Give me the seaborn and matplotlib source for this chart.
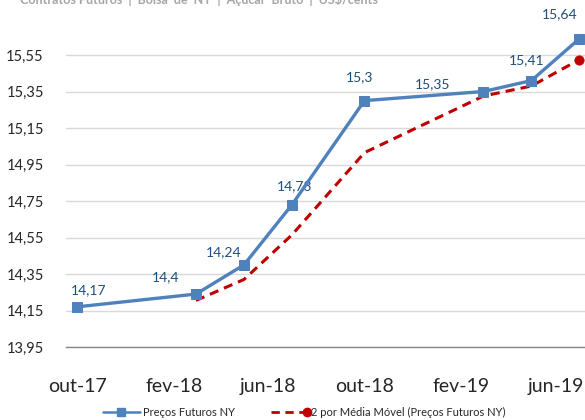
import numpy as np
import pandas as pd
import matplotlib
matplotlib.use('Agg')
import matplotlib.pyplot as plt
import seaborn as sns
from matplotlib.legend_handler import HandlerLine2D

# Data (sugar #11 contract months)
months = ['2017-10-01', '2018-03-01', '2018-05-01', '2018-07-01',
          '2018-10-01', '2019-03-01', '2019-05-01', '2019-07-01']
prices = [14.17, 14.24, 14.40, 14.73, 15.30, 15.35, 15.41, 15.64]
price_labels = ['14,17', '14,4', '14,24', '14,73', '15,3', '15,35', '15,41', '15,64']
ma_months = months[1:]
ma_values = [14.205, 14.32, 14.565, 15.015, 15.325, 15.38, 15.525]

tick_dates = ['2017-10-01', '2018-02-01', '2018-06-01', '2018-10-01', '2019-02-01', '2019-06-01']
tick_labels = ['out-17', 'fev-18', 'jun-18', 'out-18', 'fev-19', 'jun-19']
y_ticks = [13.95, 14.15, 14.35, 14.55, 14.75, 14.95, 15.15, 15.35, 15.55]

df = pd.DataFrame({'data': pd.to_datetime(months), 'preco': prices})
ma = pd.DataFrame({'data': pd.to_datetime(ma_months), 'mm': ma_values})

sns.set_style('white')
plt.rcParams['font.family'] = ['Lato', 'DejaVu Sans']

fig = plt.figure(figsize=(5.85, 4.2), dpi=100)
ax = fig.add_axes([66 / 585, 1 - 347 / 420, 1 - 66 / 585, 347 / 420])

blue = '#4F81BD'
red = '#C00000'

sns.lineplot(data=ma, x='data', y='mm', ax=ax, color=red, linewidth=2.2,
             linestyle=(0, (3, 2)), label='2 por Média Móvel (Preços Futuros NY)', zorder=3)
sns.scatterplot(x=ma['data'].iloc[-1:], y=ma['mm'].iloc[-1:], ax=ax, color=red, s=45,
                edgecolor=red, zorder=4, clip_on=False)
sns.lineplot(data=df, x='data', y='preco', ax=ax, color=blue, linewidth=2.4,
             marker='s', markersize=7, markeredgecolor=blue, label='Preços Futuros NY',
             zorder=5, clip_on=False)

# data labels (offsets in pixels, as placed in the original)
offsets = [(12, 17), (-30, 17), (-20, 13), (3, 18), (-5, 23), (-51, 7), (-5, 20), (-20, 24)]
for d, v, t, (dx, dy) in zip(df['data'], prices, price_labels, offsets):
    ax.annotate(t, (d, v), xytext=(dx, dy), textcoords='offset pixels',
                ha='center', va='center', fontsize=10, color='#1F4E79', annotation_clip=False)

ax.set_xlim(pd.Timestamp('2017-09-17'), pd.Timestamp('2019-07-08'))
ax.set_ylim(13.95, 13.95 + 347 / 182.5)
ax.set_yticks(y_ticks)
ax.set_yticklabels([f'{v:.2f}'.replace('.', ',') for v in y_ticks], fontsize=10.5)
ax.set_xticks(pd.to_datetime(tick_dates))
ax.set_xticklabels(tick_labels, fontsize=14)
ax.tick_params(axis='x', length=0, pad=22)
ax.tick_params(axis='y', length=0, pad=16)
ax.set_xlabel('')
ax.set_ylabel('')
ax.grid(axis='y', color='#D9D9D9', linewidth=1)
ax.grid(axis='x', visible=False)
for s in ['top', 'right', 'left']:
    ax.spines[s].set_visible(False)
ax.spines['bottom'].set_color('#868686')
ax.spines['bottom'].set_linewidth(1)


class EndMarker(HandlerLine2D):
    def create_artists(self, *args, **kwargs):
        arts = super().create_artists(*args, **kwargs)
        arts[0].set_markevery([2])
        return arts


h, l = ax.get_legend_handles_labels()
blue_h = plt.Line2D([], [], color=blue, linewidth=1.8, marker='s', markersize=6)
red_h = plt.Line2D([], [], color=red, linewidth=2, linestyle=(0, (3, 2)), marker='o', markersize=6)
ax.legend([blue_h, red_h], ['Preços Futuros NY', '2 por Média Móvel (Preços Futuros NY)'],
          handler_map={red_h: EndMarker()}, ncol=2, frameon=False, fontsize=8,
          loc='center', bbox_to_anchor=(304 / 585, 8 / 420), bbox_transform=fig.transFigure,
          handlelength=3.3, columnspacing=3.2, handletextpad=0.3)

fig.text(20 / 585, 1 - 4 / 420, 'Contratos Futuros  |  Bolsa  de  NY  |  Açúcar  Bruto  |  US$/cents',
         fontsize=9, fontweight='bold', color='#A6A6A6', ha='left', va='baseline')

fig.savefig('out.png', dpi=100)
